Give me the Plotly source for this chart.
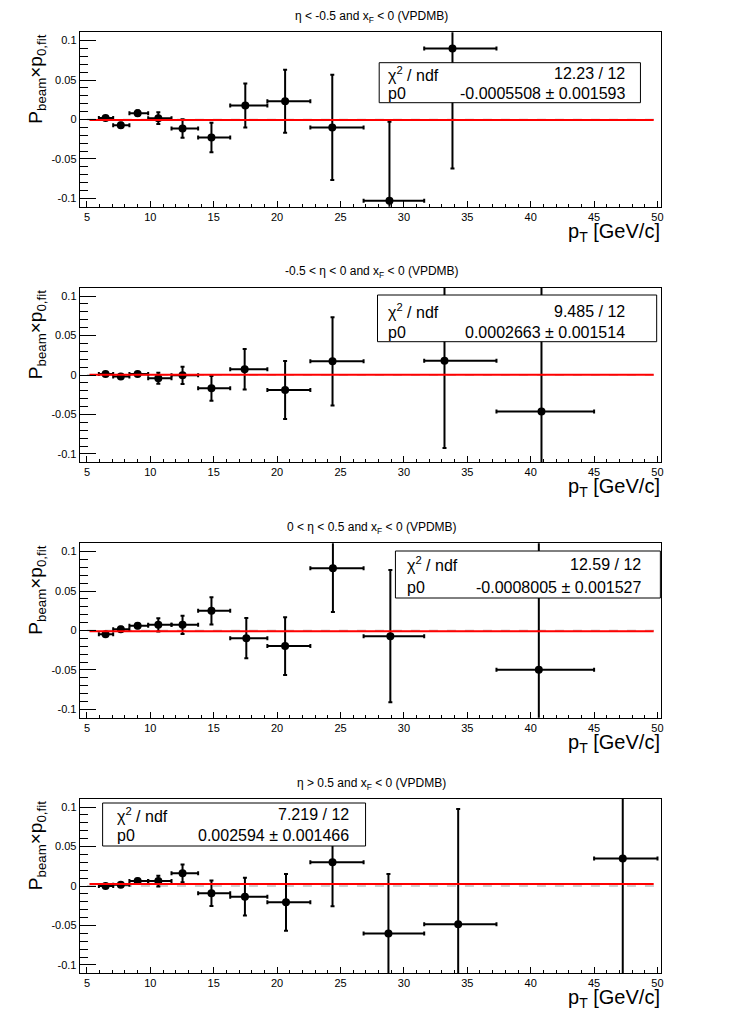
import plotly.graph_objects as go

W, H = 746, 1022
OFF = 8  # default page body margin of the browser
FONT = "Liberation Sans, Arial, Helvetica, sans-serif"

# ---------------- data ----------------
titles = [
    "η < -0.5 and x<sub>F</sub> < 0 (VPDMB)",
    "-0.5 < η < 0 and x<sub>F</sub> < 0 (VPDMB)",
    "0 < η < 0.5 and x<sub>F</sub> < 0 (VPDMB)",
    "η > 0.5 and x<sub>F</sub> < 0 (VPDMB)",
]

# panel 1
x1 = [6.47, 7.67, 9.0, 10.63, 12.54, 14.82, 17.49, 20.63, 24.35, 28.86, 33.83]
xlo1 = [5.94, 7.07, 8.35, 9.83, 11.67, 13.77, 16.3, 19.23, 22.62, 26.82, 31.6]
xhi1 = [7.07, 8.35, 9.83, 11.67, 13.77, 16.3, 19.23, 22.62, 26.82, 31.6, 37.3]
y1 = [0.002, -0.0072, 0.008, 0.0017, -0.0114, -0.0228, 0.0177, 0.0232, -0.0101, -0.103, 0.0899]
e1 = [0.0025, 0.003, 0.0036, 0.0074, 0.0118, 0.0186, 0.0278, 0.040, 0.0667, 0.100, 0.152]

# panel 2
x2 = [6.47, 7.67, 9.0, 10.63, 12.54, 14.82, 17.44, 20.63, 24.37, 33.2, 40.85]
xlo2 = [5.94, 7.07, 8.35, 9.83, 11.67, 13.77, 16.3, 19.23, 22.62, 31.6, 37.3]
xhi2 = [7.07, 8.35, 9.83, 11.67, 13.77, 16.3, 19.23, 22.62, 26.82, 37.3, 45.0]
y2 = [0.0013, -0.002, 0.0013, -0.004, -0.0004, -0.0169, 0.0072, -0.019, 0.0173, 0.0181, -0.0464]
e2 = [0.002, 0.002, 0.002, 0.007, 0.011, 0.0156, 0.0257, 0.0367, 0.0559, 0.1105, 0.16]

# panel 3
x3 = [6.47, 7.67, 9.0, 10.63, 12.54, 14.82, 17.57, 20.63, 24.4, 28.93, 40.64]
xlo3 = [5.94, 7.07, 8.35, 9.83, 11.67, 13.77, 16.3, 19.23, 22.62, 26.82, 37.3]
xhi3 = [7.07, 8.35, 9.83, 11.67, 13.77, 16.3, 19.23, 22.62, 26.82, 31.6, 45.0]
y3 = [-0.0046, 0.0017, 0.0059, 0.0072, 0.0072, 0.0249, -0.0097, -0.0198, 0.0789, -0.0072, -0.0498]
e3 = [0.002, 0.003, 0.003, 0.0084, 0.0116, 0.0173, 0.0255, 0.0367, 0.0553, 0.0838, 0.17]

# panel 4
x4 = [6.47, 7.67, 9.0, 10.63, 12.54, 14.82, 17.46, 20.7, 24.37, 28.78, 34.28, 47.26]
xlo4 = [5.94, 7.07, 8.35, 9.83, 11.67, 13.77, 16.3, 19.23, 22.62, 26.82, 31.6, 45.0]
xhi4 = [7.07, 8.35, 9.83, 11.67, 13.77, 16.3, 19.23, 22.62, 26.82, 31.6, 37.3, 50.0]
y4 = [0.0, 0.0017, 0.0063, 0.0063, 0.016, -0.0093, -0.0135, -0.0207, 0.030, -0.0603, -0.0485, 0.035]
e4 = [0.002, 0.002, 0.003, 0.0068, 0.0112, 0.0162, 0.024, 0.0359, 0.0557, 0.0755, 0.146, 0.16]

# fit results (constant p0)
p0_vals = [-0.0005508, 0.0002663, -0.0008005, 0.002594]
p0_text = ["-0.0005508 ± 0.001593", "0.0002663 ± 0.001514",
           "-0.0008005 ± 0.001527", "0.002594 ± 0.001466"]
chi2_text = ["12.23 / 12", "9.485 / 12", "12.59 / 12", "7.219 / 12"]
fit_range = [5.2, 49.7]

x_ticks = [5, 10, 15, 20, 25, 30, 35, 40, 45, 50]
y_ticks = [-0.1, -0.05, 0, 0.05, 0.1]
y_ticktext = ["-0.1", "-0.05", "0", "0.05", "0.1"]

# stats boxes in pixels: (left, top, right, bottom, text_left, text_right, row1_y, row2_y)
boxes = [
    (380.7, 62.7, 643.0, 102.7, 388, 629, 74.0, 93.3),
    (379.0, 295.0, 659.3, 341.7, 388, 629, 311.0, 332.0),
    (397.0, 551.0, 663.0, 598.0, 406.7, 646, 564.0, 587.5),
    (103.0, 803.0, 367.0, 846.0, 115, 352, 814.5, 835.5),
]

# ---------------- layout ----------------
XS = [x1, x2, x3, x4]
XLO = [xlo1, xlo2, xlo3, xlo4]
XHI = [xhi1, xhi2, xhi3, xhi4]
YS = [y1, y2, y3, y4]
ES = [e1, e2, e3, e4]

def px(v):
    return (v - OFF) / W

def py(v):
    return 1 - (v - OFF) / H

fig = go.Figure()
annotations = []
shapes = []
layout = dict(
    width=W, height=H, autosize=False,
    margin=dict(l=0, r=0, t=0, b=0),
    paper_bgcolor="white", plot_bgcolor="white",
    showlegend=False,
    font=dict(family=FONT, color="black"),
)

PAD = 255.5
for i in range(4):
    n = "" if i == 0 else str(i + 1)
    top = 32.3 + PAD * i
    bot = 206.7 + PAD * i
    xa = "x" + n
    ya = "y" + n
    layout["xaxis" + n] = dict(
        domain=[px(80), px(663.3)], range=[4.43, 50.25], anchor=ya,
        showgrid=False, zeroline=False, showline=True, mirror=True,
        linecolor="black", linewidth=1,
        ticks="inside", ticklen=6, tickwidth=1, tickcolor="black",
        tickvals=x_ticks, ticktext=[str(t) for t in x_ticks],
        tickfont=dict(size=11, family=FONT, color="black"),
        minor=dict(ticks="inside", ticklen=3, dtick=1, tick0=0,
                   tickcolor="black", showgrid=False),
        fixedrange=True,
    )
    layout["yaxis" + n] = dict(
        domain=[py(bot), py(top)], range=[-0.1105, 0.1105], anchor=xa,
        showgrid=False, zeroline=False, showline=True, mirror=True,
        linecolor="black", linewidth=1,
        ticks="inside", ticklen=16, tickwidth=1, tickcolor="black",
        tickvals=y_ticks, ticktext=y_ticktext,
        tickfont=dict(size=11, family=FONT, color="black"),
        minor=dict(ticks="inside", ticklen=8, dtick=0.01, tick0=0,
                   tickcolor="black", showgrid=False),
        fixedrange=True,
    )

    # zero reference line (gray dashed)
    fig.add_trace(go.Scatter(
        x=[5, 50], y=[0, 0], mode="lines", xaxis=xa, yaxis=ya,
        line=dict(color="#c0c0c0", width=1.5, dash="dash"), hoverinfo="skip"))

    xs = XS[i]
    ep = [h - x for x, h in zip(xs, XHI[i])]
    em = [x - l for x, l in zip(xs, XLO[i])]
    fig.add_trace(go.Scatter(
        x=xs, y=YS[i], mode="markers", xaxis=xa, yaxis=ya,
        marker=dict(color="black", size=8, symbol="circle"),
        error_y=dict(type="data", array=ES[i], symmetric=True,
                     color="black", thickness=2, width=2),
        error_x=dict(type="data", array=ep, arrayminus=em, symmetric=False,
                     color="black", thickness=2, width=2),
        cliponaxis=True,
    ))

    # fit line
    fig.add_trace(go.Scatter(
        x=fit_range, y=[p0_vals[i], p0_vals[i]], mode="lines", xaxis=xa, yaxis=ya,
        line=dict(color="#ff0000", width=2), hoverinfo="skip"))

    # panel title
    annotations.append(dict(
        text=titles[i], x=px(373), y=py(17 + PAD * i), xref="paper", yref="paper",
        xanchor="center", yanchor="middle", showarrow=False,
        font=dict(size=12, family=FONT, color="black")))

    # y title
    annotations.append(dict(
        text="P<sub>beam</sub>×p<sub>0,fit</sub>", x=px(37), y=py(top),
        xref="paper", yref="paper", xanchor="center", yanchor="top",
        textangle=-90, showarrow=False,
        font=dict(size=19, family=FONT, color="black")))

    # x title
    annotations.append(dict(
        text="p<sub>T</sub> [GeV/c]", x=px(665), y=py(232 + PAD * i),
        xref="paper", yref="paper", xanchor="right", yanchor="middle",
        showarrow=False, font=dict(size=20, family=FONT, color="black")))

    # stats box
    L, T, R, B, tl, tr, r1, r2 = boxes[i]
    shapes.append(dict(
        type="rect", xref="paper", yref="paper",
        x0=px(L), x1=px(R), y0=py(B), y1=py(T),
        line=dict(color="black", width=1), fillcolor="white", layer="above"))
    for lab, val, yy in (("χ<sup>2</sup> / ndf", chi2_text[i], r1), ("p0", p0_text[i], r2)):
        annotations.append(dict(
            text=lab, x=px(tl), y=py(yy), xref="paper", yref="paper",
            xanchor="left", yanchor="middle", showarrow=False,
            font=dict(size=16, family=FONT, color="black")))
        annotations.append(dict(
            text=val, x=px(tr), y=py(yy), xref="paper", yref="paper",
            xanchor="right", yanchor="middle", showarrow=False,
            font=dict(size=16, family=FONT, color="black")))

layout["annotations"] = annotations
layout["shapes"] = shapes
fig.update_layout(**layout)

fig.write_html("out.html")
